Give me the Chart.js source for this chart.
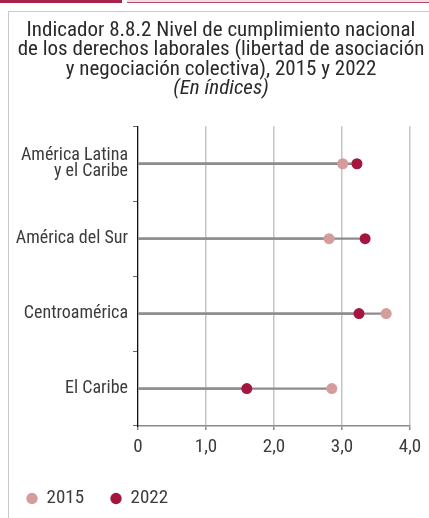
<!DOCTYPE html>
<html>
<head>
<meta charset="utf-8">
<script src="https://cdn.jsdelivr.net/npm/chart.js@4"></script>
<style>
  body { margin: 0; background: #fff; }
  #page { position: relative; width: 429px; height: 518px; overflow: hidden; }
  .bar-a { position: absolute; left: 0; top: 0; width: 122px; height: 3px; background: #a8234a; }
  .bar-b { position: absolute; left: 127px; top: 0; width: 302px; height: 2px; background: #f0dde2; border-bottom: 1px solid #b04a68; }
  .frame { position: absolute; left: 8px; top: 11px; width: 600px; height: 600px; border: 1px solid #c9c9c9; }
  #wrap { position: absolute; left: 0; top: 0; width: 429px; height: 518px; }
</style>
</head>
<body>
<div id="page">
  <div class="bar-a"></div>
  <div class="bar-b"></div>
  <div class="frame"></div>
  <div id="wrap"><canvas id="canvas-grafico"></canvas></div>
</div>
<script>
const categorias = [["América Latina", "y el Caribe"], "América del Sur", "Centroamérica", "El Caribe"];
const valores2015 = [3.01, 2.81, 3.65, 2.85];
const valores2022 = [3.22, 3.34, 3.25, 1.6];
const ejeMin = 0;
const ejeMax = 4;
const ejePaso = 1;

const FONT = "'Liberation Sans Narrow', 'Roboto Condensed', 'DejaVu Sans Condensed', sans-serif";
const TEXTO = "#3c3c3c";

document.addEventListener("DOMContentLoaded", function () {
  createGrafico();
});

// centra el título sobre el recuadro y no sobre el área del gráfico
const moverTitulo = {
  id: "moverTitulo",
  afterLayout(chart) {
    chart.boxes.forEach((box) => {
      if (box.position === "top") {
        box.left += 16;
        box.right += 16;
      }
    });
  },
};

function createGrafico() {
  const lineaBase = {
    type: "bar",
    label: "",
    backgroundColor: "#8c8c8c",
    barThickness: 1.6,
    grouped: false,
    order: 2,
  };

  const data = {
    labels: categorias,
    datasets: [
      Object.assign({}, lineaBase, { data: valores2015 }),
      Object.assign({}, lineaBase, { data: valores2022 }),
      {
        type: "line",
        label: "2015",
        data: valores2015,
        indexAxis: "y",
        showLine: false,
        pointStyle: "circle",
        pointRadius: 5.5,
        pointBackgroundColor: "#d59c9c",
        pointBorderWidth: 0,
        backgroundColor: "#d59c9c",
        borderColor: "#d59c9c",
        order: 1,
      },
      {
        type: "line",
        label: "2022",
        data: valores2022,
        indexAxis: "y",
        showLine: false,
        pointStyle: "circle",
        pointRadius: 5.5,
        pointBackgroundColor: "#a3173f",
        pointBorderWidth: 0,
        backgroundColor: "#a3173f",
        borderColor: "#a3173f",
        order: 0,
      },
    ],
  };

  const config = {
    type: "bar",
    data: data,
    plugins: [moverTitulo],
    options: {
      indexAxis: "y",
      responsive: true,
      maintainAspectRatio: false,
      animation: false,
      layout: { padding: { top: 21, left: 0, right: 19, bottom: 0 } },
      scales: {
        x: {
          type: "linear",
          min: ejeMin,
          max: ejeMax,
          ticks: {
            stepSize: ejePaso,
            color: TEXTO,
            font: { family: FONT, size: 19 },
            padding: 6,
            callback: (v) => (v === 0 ? "0" : v.toFixed(1).replace(".", ",")),
          },
          grid: { color: "#c4c4c4", lineWidth: 1.5, tickLength: 4, tickColor: "#8a8a8a" },
          border: { color: "#8a8a8a", width: 1.5 },
          afterFit: (scale) => { scale.height = 36; },
        },
        y: {
          type: "category",
          offset: true,
          ticks: {
            color: TEXTO,
            font: { family: FONT, size: 18, lineHeight: 0.88 },
            padding: 5,
          },
          grid: { offset: true, drawOnChartArea: false, tickLength: 5, color: "#666" },
          border: { color: "#111", width: 1.2 },
          afterFit: (scale) => { scale.width = 138; },
        },
      },
      plugins: {
        tooltip: { enabled: false },
        title: {
          display: true,
          text: [
            "Indicador 8.8.2 Nivel de cumplimiento nacional",
            "de los derechos laborales (libertad de asociación",
            "y negociación colectiva), 2015 y 2022",
          ],
          color: "#2a2a2a",
          font: { family: FONT, size: 21, weight: "normal", lineHeight: 0.92 },
          padding: { top: 0, bottom: 0 },
        },
        subtitle: {
          display: true,
          text: "(En índices)",
          color: "#2a2a2a",
          font: { family: FONT, size: 21, style: "italic", lineHeight: 0.92 },
          padding: { top: 0, bottom: 28 },
        },
        legend: {
          position: "bottom",
          align: "start",
          labels: {
            usePointStyle: true,
            pointStyle: "circle",
            boxWidth: 10,
            boxHeight: 8,
            padding: 27,
            color: TEXTO,
            font: { family: FONT, size: 19, lineHeight: 1 },
            filter: (item) => item.text !== "",
            sort: (a, b) => a.datasetIndex - b.datasetIndex,
          },
        },
      },
    },
  };

  new Chart(document.getElementById("canvas-grafico"), config);
}
</script>
</body>
</html>
